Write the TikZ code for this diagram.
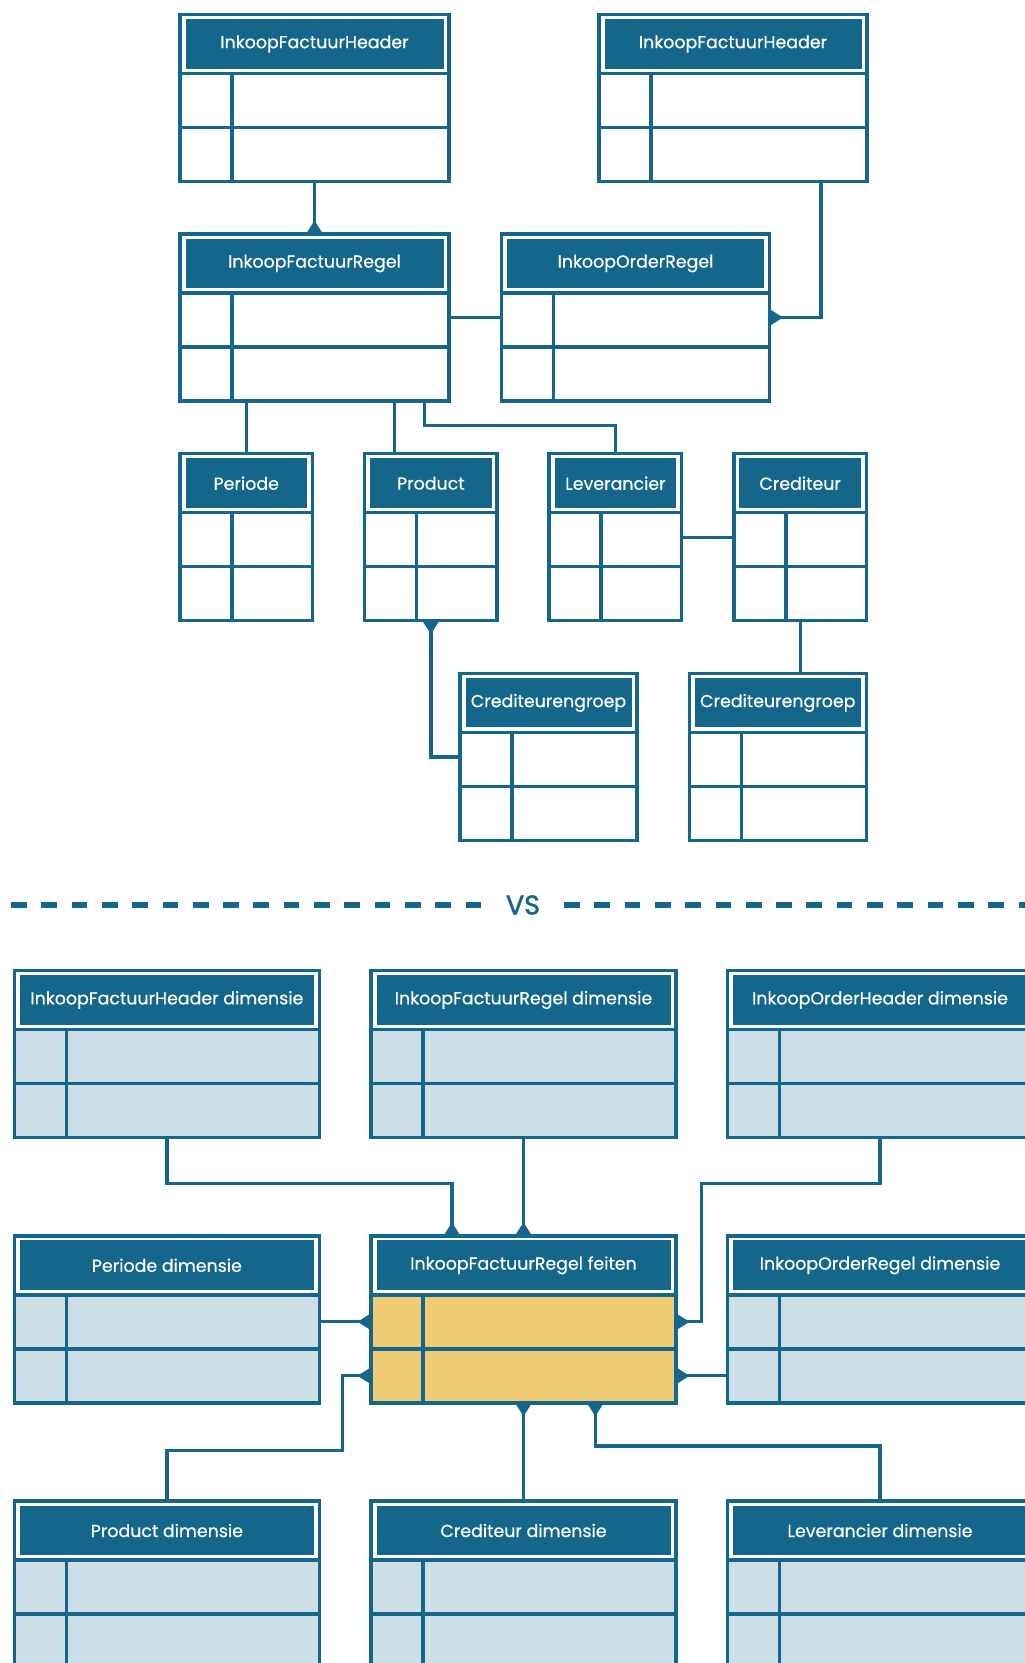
\documentclass[tikz,border=0pt]{standalone}
\usepackage{fontspec}
\setmainfont{Poppins}
\newfontfamily\ertfont{Poppins}[FakeBold=0.5]
\newfontfamily\ervsfont{Poppins}[FakeBold=1.6]
\usetikzlibrary{calc}

\definecolor{erblue}{HTML}{14678A}
\definecolor{erlight}{HTML}{CDDFE6}
\definecolor{eryellow}{HTML}{EECC76}

\tikzset{
  frame/.style={draw=erblue, line width=3.5pt},
  conn/.style={draw=erblue, line width=3.3pt},
  tabtitle/.style={text=white, inner sep=0pt, font=\ertfont\fontsize{17.4}{21}\selectfont},
  hold/.style={inner sep=0pt, outer sep=0pt, anchor=north west},
  sep/.style={draw=erblue, line width=6.7pt, dash pattern=on 15.7pt off 14.6pt},
}

% table: name, left, top, width, row fill, title
\newcommand\ertable[6]{%
  \pgfmathsetmacro\ertR{#2+#4}%
  \pgfmathsetmacro\ertB{#3+167}%
  \pgfmathsetmacro\ertH{#3+59}%
  \pgfmathsetmacro\ertM{#3+113}%
  \pgfmathsetmacro\ertC{#2+52}%
  \fill[#5] (#2,\ertH) rectangle (\ertR,\ertB);
  \fill[erblue] (#2+5.5,#3+4.5) rectangle (\ertR-5.5,\ertH-5);
  \draw[frame] (#2,#3) rectangle (\ertR,\ertB);
  \draw[frame] (#2,\ertH) -- (\ertR,\ertH) (#2,\ertM) -- (\ertR,\ertM) (\ertC,\ertH) -- (\ertC,\ertB);
  \node[hold, minimum width=#4pt, minimum height=167pt] (#1) at (#2,#3) {};
  \node[tabtitle] (#1-title) at ({#2+#4/2},{#3+29.5}) {#6};
}

% filled triangle on a table edge, pointing along the connector
\newcommand\ertip[2]{\fill[erblue, shift={#1}, rotate=#2] (0,-8.5) -- (13.5,0) -- (0,8.5) -- cycle;}

\begin{document}
\begin{tikzpicture}[x=1pt, y=-1pt]
\useasboundingbox (0,0) rectangle (1025,1663);
\clip (0,0) rectangle (1025,1663);
\fill[white] (0,0) rectangle (1025,1663);

% ---------- source model ----------
\ertable{ifh1}{180}{14.5}{269}{white}{InkoopFactuurHeader}
\ertable{ifh2}{599}{14.5}{268}{white}{InkoopFactuurHeader}
\ertable{ifr}{180}{234}{269}{white}{InkoopFactuurRegel}
\ertable{ior}{501.5}{234}{268}{white}{InkoopOrderRegel}
\ertable{per}{180}{453.7}{132.5}{white}{Periode}
\ertable{prod}{364.6}{453.7}{132.5}{white}{Product}
\ertable{lev}{549.2}{453.7}{132.5}{white}{Leverancier}
\ertable{cred}{733.9}{453.7}{132.5}{white}{Crediteur}
\ertable{cg1}{460}{673.4}{177}{white}{Crediteurengroep}
\ertable{cg2}{689.3}{673.4}{177}{white}{Crediteurengroep}

\draw[conn] (ifh1.south) -- (ifr.north);
\ertip{(ifr.north)}{90}
\draw[conn] (ifr.east) -- (ior.west);
\coordinate (t1) at ($(ifh2.south)+(88,0)$);
\draw[conn] (t1) |- (ior.east);
\ertip{(ior.east)}{0}
\draw[conn] (per.north |- ifr.south) -- (per.north);
\coordinate (t2) at ($(ifr.south west)+(214.7,0)$);
\draw[conn] (t2) -- (t2 |- prod.north);
\coordinate (t3) at ($(ifr.south west)+(244.4,0)$);
\coordinate (t4) at ($(lev.north)+(0,-28.2)$);
\draw[conn] (t3) |- (t4) -- (lev.north);
\draw[conn] (lev.east) -- (cred.west);
\draw[conn] (prod.south) |- (cg1.west);
\ertip{(prod.south)}{270}
\draw[conn] (cred.south) -- (cred.south |- cg2.north);

% ---------- separator ----------
\node[text=erblue, inner sep=0pt, font=\ervsfont\fontsize{27}{30}\selectfont] (vs) at (523,905) {VS};
\draw[sep] (11,905) -- (483,905);
\draw[sep] (564,905) -- (1035,905);

% ---------- star schema ----------
\ertable{ifhd}{14.4}{970.5}{305}{erlight}{InkoopFactuurHeader dimensie}
\ertable{ifrd}{371}{970.5}{305}{erlight}{InkoopFactuurRegel dimensie}
\ertable{iohd}{727.5}{970.5}{305}{erlight}{InkoopOrderHeader dimensie}
\ertable{perd}{14.4}{1235.8}{305}{erlight}{Periode dimensie}
\ertable{feit}{371}{1235.8}{305}{eryellow}{InkoopFactuurRegel feiten}
\ertable{iord}{727.5}{1235.8}{305}{erlight}{InkoopOrderRegel dimensie}
\ertable{prdd}{14.4}{1501}{305}{erlight}{Product dimensie}
\ertable{crdd}{371}{1501}{305}{erlight}{Crediteur dimensie}
\ertable{levd}{727.5}{1501}{305}{erlight}{Leverancier dimensie}

\coordinate (b1) at ($(feit.north west)+(81,-52)$);
\coordinate (b2) at ($(feit.north east)+(25.5,-52)$);
\coordinate (b3) at ($(feit.south west)+(-28.3,47.7)$);
\coordinate (b4) at ($(feit.south west)+(224.3,43.2)$);

\draw[conn] (ifhd.south) |- (b1) -- (b1 |- feit.north);
\ertip{(b1 |- feit.north)}{90}
\draw[conn] (ifrd.south) -- (feit.north);
\ertip{(feit.north)}{90}
\draw[conn] (iohd.south) |- (b2) |- ($(feit.east)+(0,2.5)$);
\ertip{($(feit.east)+(0,2.5)$)}{0}
\draw[conn] ($(perd.east)+(0,2.5)$) -- ($(feit.west)+(0,2.5)$);
\ertip{($(feit.west)+(0,2.5)$)}{180}
\draw[conn] (prdd.north) |- (b3) |- ($(feit.west)+(0,56.5)$);
\ertip{($(feit.west)+(0,56.5)$)}{180}
\draw[conn] ($(iord.west)+(0,56.5)$) -- ($(feit.east)+(0,56.5)$);
\ertip{($(feit.east)+(0,56.5)$)}{0}
\draw[conn] (crdd.north) -- (feit.south);
\ertip{(feit.south)}{270}
\draw[conn] (levd.north) |- (b4) -- (b4 |- feit.south);
\ertip{(b4 |- feit.south)}{270}
\end{tikzpicture}
\end{document}
